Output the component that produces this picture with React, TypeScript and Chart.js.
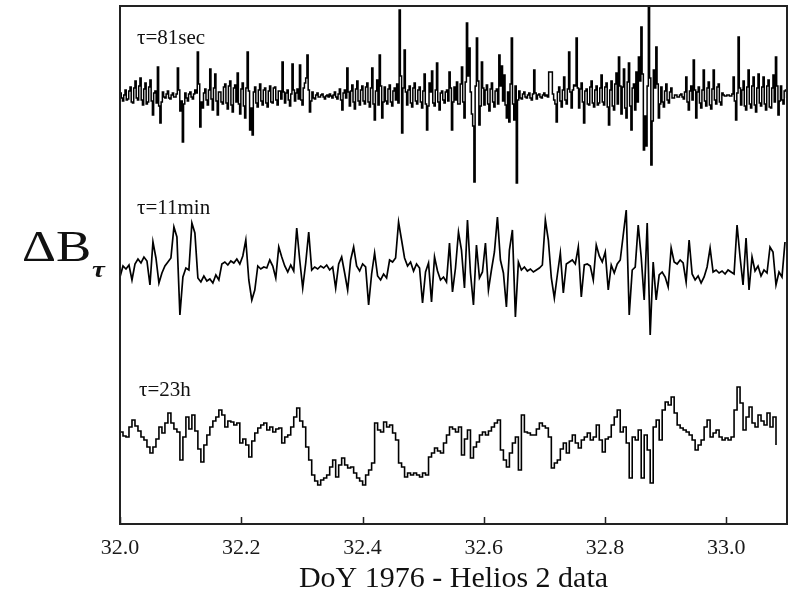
import React, { useEffect, useRef } from "react";
import { Chart, registerables } from "chart.js";

Chart.register(...registerables);

// Day-of-year axis (1976), Helios 2
const DAY_START = 32.0;
const DAY_END = 33.1;
const X_TICKS = [32.0, 32.2, 32.4, 32.6, 32.8, 33.0];

// Sampling interval (days) of each increment series
const STEP_81S = 0.002055;
const STEP_11M = 0.00494;
const STEP_23H = 0.00494;

// Vertical offsets that stack the three traces in one frame
const Y_MAX = 518;
const OFFSET_81S = 428;
const OFFSET_11M = 256;
const OFFSET_23H = 89;

// ΔB at lag τ = 81 s
const DB_81S = [
  3, -2, -5, 1, 6, -4, -3, 5, 9, -6, -7, 8, 15, -2, -4, 10,
  18, -4, -9, 7, 13, -8, -6, 9, 16, -5, -19, 3, 5, -7, 29, -10,
  -27, -6, 4, -1, -2, 2, 5, -2, -3, 1, 3, -1, -1, 2, 28, 6,
  -15, -5, -46, -8, 3, -2, -5, 2, 4, -1, -3, 2, 6, 3, 44, 12,
  -31, -6, -12, 3, 7, -4, -9, 6, 27, -3, -14, 8, 22, -5, -19, 4,
  4, -6, -8, 9, 12, -7, -13, 10, 15, -9, -16, 8, 11, -6, 23, -8,
  -18, 7, 13, -10, -22, 8, 44, 5, -34, -12, -39, 4, 9, -7, -11, 6,
  12, -5, -9, 6, 8, -7, -11, 5, 10, -6, -7, 8, 9, -4, -9, 5,
  5, -3, 34, 4, -7, 3, 6, -4, -10, 2, 32, 6, -5, 3, 7, -3,
  31, -4, -9, 8, 13, 18, 41, 6, -16, -5, 4, -2, -3, 1, 3, -1,
  -1, 1, 2, -1, -3, 0, 1, -1, 2, 0, -2, 1, 4, -1, -3, 2,
  7, -4, -14, 3, 6, -2, 28, 4, -10, 5, 11, -6, -13, 7, 15, -5,
  -9, 6, 10, -5, -8, 9, 13, -6, -11, 8, 28, -8, -24, 5, 16, -9,
  41, 10, -22, -6, 9, -5, -8, 7, 11, -6, -10, 5, 8, -4, 12, -7,
  86, 20, -37, 8, 46, 4, -9, 6, 10, -7, -11, 8, 13, -5, -8, 6,
  9, -6, -12, 5, 22, -8, -34, -10, 13, 4, 25, -7, -10, 6, 33, -6,
  -14, 3, 5, -4, -7, 4, 6, -5, 24, 8, -34, -6, 9, -4, 14, -8,
  -8, 12, 29, -6, -22, 14, 73, 20, 48, 4, -18, -30, -86, 10, 58, 15,
  -29, -10, 34, 8, -9, 6, 11, -8, -15, 7, 13, -6, -11, 5, 7, -8,
  41, 10, 30, -5, 21, -9, -22, 4, -26, 12, 58, -8, -24, 10, -87, -4,
  5, -2, -3, 2, 4, -1, -2, 1, 3, -2, -4, 2, 26, 3, -3, 1,
  2, -1, -2, 1, 3, 0, 1, -1, 24, 24, 24, 2, -4, -8, -26, 4,
  9, -5, -11, 6, 19, -4, -8, 7, 44, 4, -12, 6, 11, 10, 58, 8,
  -12, 7, 13, -6, -27, 5, 7, -8, -9, 9, 15, -7, -11, 6, 10, -9,
  -7, 8, 21, -6, -9, 9, 13, -11, -29, 6, 15, -10, -14, 12, 23, -8,
  39, 10, -18, 9, 27, -12, -22, 14, 33, -10, -34, 8, 12, -14, 24, -6,
  39, 15, 69, 22, -54, -20, -50, 10, 90, 18, -69, -25, 26, 8, 49, 12,
  -22, -8, 9, -6, -11, 5, 12, -4, -7, 4, 8, -2, -2, 1, 1, -1,
  -1, 1, 2, -1, -3, 4, 19, -6, -14, 5, 10, -4, 36, 6, -22, 4,
  9, -7, -12, 6, 26, -5, -10, 8, 14, -9, -13, 7, 26, -4, -8, 9,
  12, -6, -9, 3, 1, 0, 0, 1, 1, 0, 0, 2, 19, -5, -24, 3,
  59, 8, -9, 6, 15, -10, -14, 9, 26, -8, -12, 10, 19, -9, -16, 8,
  22, -7, -10, 9, 19, -8, -14, 10, 16, -11, -12, 8, 21, -6, 39, 10,
  -19, -5, 10, -4, -8, 5, 6, -2,
];

// ΔB at lag τ = 11 min
const DB_11M = [
  -9, 2, -1, 3, -12, 4, 9, 5, 11, 7,
  -17, 26, 10, -15, -5, 2, 6, 10, 41, 31,
  -47, -9, 0, -2, 45, 35, -10, -14, -8, -13,
  -11, -15, -7, -12, 4, 6, 3, 7, 5, 9,
  4, 12, 28, -12, -32, -22, 2, -1, 1, 0,
  8, 2, -10, 21, 11, 2, -4, 3, -3, 40,
  8, -20, 5, 36, -2, 1, -1, 2, 0, 3,
  -2, 1, -20, 4, 11, -5, -22, 8, 21, 2,
  -3, 4, 1, -37, -6, 15, -8, -12, -6, -10,
  8, 6, 10, 46, 28, 10, 2, 6, -3, 4,
  0, -35, -4, 5, -34, 11, -3, -12, -9, -14,
  25, -24, 0, 36, 18, -20, 48, -5, -37, 23,
  -10, -4, 25, -22, -2, 16, 51, 8, -5, -39,
  18, 38, -49, 6, -2, 1, -3, -1, -4, -2,
  0, 3, 48, 28, -10, -30, -7, 15, -25, 4,
  6, 8, 4, 21, -29, 3, 4, 2, -12, 23,
  12, 6, 16, -22, 3, -5, 4, 8, 33, 58,
  -47, -2, 1, 43, 11, -32, 45, -67, 6, -32,
  -7, -4, -9, -19, 20, 6, 4, 8, 5, -14,
  28, -6, -12, -8, -15, -9, 1, 20, -4, -2,
  -5, -3, -6, -2, -4, -6, 43, 11, -17, 30,
  -22, 11, -3, 2, -8, -2, -5, 21, 16, -17,
  -4, -9, 26,
];

// ΔB at lag τ = 23 h
const DB_23H = [
  3, -1, -2, 8, 15, 9, 4, -2, -5, -12,
  -18, -12, -4, 8, 2, 12, 22, 12, 6, 3,
  -25, -2, 18, 6, 20, 4, -14, -27, -10, 0,
  8, 14, 18, 25, 20, 8, 14, 13, 10, 12,
  -8, -4, -10, -22, -6, 2, 7, 10, 12, 5,
  8, 3, 6, 7, -8, -2, 0, 8, 18, 27,
  14, 8, -12, -25, -40, -46, -50, -45, -43, -40,
  -32, -25, -42, -30, -23, -30, -33, -32, -38, -43,
  -46, -50, -40, -35, -28, 12, 5, 3, 13, 8,
  10, 2, -5, -28, -32, -42, -38, -40, -38, -40,
  -42, -38, -40, -22, -18, -13, -16, -18, -8, 0,
  8, 6, 3, 8, -20, -4, 5, -23, -12, -7,
  0, 3, 0, 4, 8, 12, 15, -15, -25, -32,
  -18, -8, -2, -35, 20, 3, 2, 0, 0, 6,
  12, 9, 7, -2, -33, -28, -25, -14, -8, -18,
  -6, 0, -8, -13, -5, -2, 2, -5, -2, 10,
  -5, -17, -4, -2, 10, 18, 25, 3, 8, -8,
  -43, -2, -5, 5, -43, 0, -15, -48, 8, 15,
  -5, 25, 33, 30, 38, 22, 10, 7, 5, 3,
  0, -5, -15, -10, -5, 8, 15, -2, 2, 5,
  -2, -5, -3, -5, -2, 25, 48, 32, 5, 18,
  28, 12, 8, 20, 14, 10, 22, 8, 18, -10,
];

const SERIF = "'Liberation Serif', 'Times New Roman', serif";

function toPoints(values: number[], step: number, offset: number) {
  return values.map((v, i) => ({ x: DAY_START + i * step, y: offset + v }));
}

// Box frame plus inward tick marks along the bottom edge
const framePlugin = {
  id: "frameBox",
  afterDatasetsDraw(chart: any) {
    const { ctx, chartArea: a, scales } = chart;
    ctx.save();
    ctx.strokeStyle = "#222";
    ctx.lineWidth = 2;
    ctx.strokeRect(a.left, a.top, a.right - a.left, a.bottom - a.top);
    const xs = scales.x;
    ctx.lineWidth = 1.5;
    ctx.beginPath();
    for (const t of xs.ticks) {
      const px = Math.round(xs.getPixelForValue(t.value)) + 0.5;
      ctx.moveTo(px, a.bottom);
      ctx.lineTo(px, a.bottom - 7);
    }
    ctx.stroke();
    ctx.restore();
  },
};

const baseTrace = {
  borderColor: "#000",
  pointRadius: 0,
  fill: false,
};

export default function App() {
  const ref = useRef<HTMLCanvasElement>(null);

  useEffect(() => {
    if (!ref.current) return;
    const chart = new Chart(ref.current, {
      type: "line",
      data: {
        datasets: [
          {
            label: "τ=81sec",
            data: toPoints(DB_81S, STEP_81S, OFFSET_81S),
            ...baseTrace,
            borderWidth: 1.5,
            stepped: true,
          },
          {
            label: "τ=11min",
            data: toPoints(DB_11M, STEP_11M, OFFSET_11M),
            ...baseTrace,
            borderWidth: 1.7,
            stepped: false,
          },
          {
            label: "τ=23h",
            data: toPoints(DB_23H, STEP_23H, OFFSET_23H),
            ...baseTrace,
            borderWidth: 1.6,
            stepped: true,
          },
        ],
      },
      options: {
        animation: false,
        responsive: false,
        devicePixelRatio: 1,
        parsing: false,
        normalized: true,
        layout: { padding: { left: 120, right: 2, top: 6, bottom: 0 } },
        plugins: {
          legend: { display: false },
          tooltip: { enabled: false },
        },
        scales: {
          x: {
            type: "linear",
            min: DAY_START,
            max: DAY_END,
            afterBuildTicks: (s: any) => {
              s.ticks = X_TICKS.map((v) => ({ value: v }));
            },
            afterFit: (s: any) => {
              s.height = 76;
            },
            grid: { display: false },
            border: { display: false },
            ticks: {
              color: "#1a1a1a",
              font: { family: SERIF, size: 22 },
              padding: 3,
              maxRotation: 0,
              autoSkip: false,
              callback: (v: any) => Number(v).toFixed(1),
            },
            title: {
              display: true,
              text: "DoY 1976 - Helios 2 data",
              color: "#111",
              font: { family: SERIF, size: 30 },
              padding: { top: 0, bottom: 3 },
            },
          },
          y: { display: false, min: 0, max: Y_MAX },
        },
      },
      plugins: [framePlugin],
    } as any);
    return () => chart.destroy();
  }, []);

  const tauLabel = (left: number, top: number): React.CSSProperties => ({
    position: "absolute",
    left,
    top,
    fontFamily: SERIF,
    fontSize: 21,
    lineHeight: "21px",
    color: "#111",
    whiteSpace: "nowrap",
  });

  return (
    <div
      style={{
        position: "fixed",
        left: 0,
        top: 0,
        width: 789,
        height: 600,
        background: "#fff",
        overflow: "hidden",
      }}
    >
      <canvas
        ref={ref}
        width={789}
        height={600}
        style={{ position: "absolute", left: 0, top: 0, width: 789, height: 600 }}
      />
      <div style={tauLabel(137, 27)}>τ=81sec</div>
      <div style={tauLabel(137, 197)}>τ=11min</div>
      <div style={tauLabel(139, 379)}>τ=23h</div>
      <div
        style={{
          position: "absolute",
          left: 22,
          top: 225,
          fontFamily: SERIF,
          fontSize: 44,
          lineHeight: "44px",
          color: "#111",
          transform: "scaleX(1.2)",
          transformOrigin: "left top",
          whiteSpace: "nowrap",
        }}
      >
        ΔB
      </div>
      <div
        style={{
          position: "absolute",
          left: 92,
          top: 257,
          fontFamily: SERIF,
          fontSize: 24,
          lineHeight: "24px",
          fontStyle: "italic",
          fontWeight: "bold",
          color: "#111",
          transform: "scaleX(1.2)",
          transformOrigin: "left top",
        }}
      >
        τ
      </div>
    </div>
  );
}
